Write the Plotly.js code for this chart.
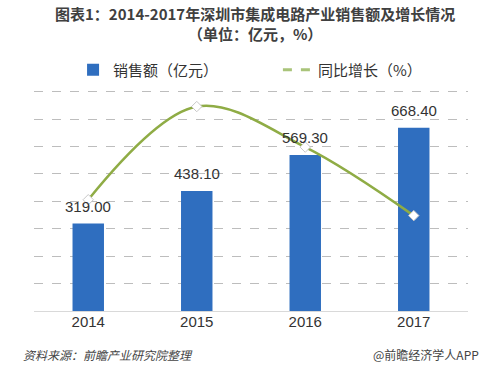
<!DOCTYPE html>
<html><head><meta charset="utf-8">
<script src="https://cdn.plot.ly/plotly-3.0.1.min.js"></script>
<style>html,body{margin:0;padding:0;background:#fff}#c{width:492px;height:367px}</style>
</head><body><div id="c"></div>
<script>
const years = [2014, 2015, 2016, 2017];
const yearLabels = ['2014','2015','2016','2017'];
const sales = [319.00, 438.10, 569.30, 668.40];
const salesLabels = ['319.00','438.10','569.30','668.40'];
const growth = [20.3, 37.3, 29.9, 17.4];
const font = '"Noto Sans CJK SC", "Noto Sans", sans-serif';

const traces = [
  {type:'bar', x:years, y:sales, width:0.29, name:'销售额（亿元）', marker:{color:'#2f6ebf'}, hoverinfo:'none', legend:'legend'},
  {type:'scatter', mode:'lines+markers', x:years, y:growth, yaxis:'y2', name:'同比增长（%）', showlegend:false,
   line:{color:'#8fac45', width:2.5, shape:'spline', smoothing:1},
   marker:{symbol:'diamond', size:8, color:'#ffffff', line:{color:'#c8c8c8', width:1}}},
  {type:'scatter', mode:'lines', x:[years[0]], y:[null], yaxis:'y2', name:'同比增长（%）', legend:'legend2',
   line:{color:'#a9c47a', width:3, dash:'dash'}}
];

const annotations = years.map((y,i)=>({x:y, y:sales[i], text:salesLabels[i], showarrow:false,
  yanchor:'bottom', yshift:7, font:{family:'Liberation Sans, Arial, sans-serif', size:15, color:'#333'}}));
annotations.push({xref:'paper', yref:'paper', x:0.51, y:1.293, xanchor:'center', yanchor:'middle', showarrow:false,
  text:'<b>图表1：2014-2017年深圳市集成电路产业销售额及增长情况</b><br><b>（单位：亿元，%）</b>',
  font:{family:font, size:15, color:'#404040'}});
annotations.push({xref:'paper', yref:'paper', x:-0.03, y:-0.198, xanchor:'left', yanchor:'middle', showarrow:false,
  text:'<i>资料来源：前瞻产业研究院整理</i>', font:{family:font, size:12, color:'#444'}});
annotations.push({xref:'paper', yref:'paper', x:1.03, y:-0.198, xanchor:'right', yanchor:'middle', showarrow:false,
  text:'@前瞻经济学人APP', font:{family:font, size:12, color:'#444'}});

const legendBase = {orientation:'h', xanchor:'left', y:1.086, yanchor:'middle',
  bgcolor:'rgba(0,0,0,0)', font:{family:font, size:15, color:'#333'}};

const layout = {
  width:492, height:367,
  margin:{l:34, r:24, t:89, b:56},
  paper_bgcolor:'#fff', plot_bgcolor:'#fff',
  showlegend:true,
  legend:Object.assign({}, legendBase, {x:0.09}),
  legend2:Object.assign({}, legendBase, {x:0.562}),
  xaxis:{type:'linear', range:[2013.5, 2017.5], tickmode:'array', tickvals:years, ticktext:yearLabels,
    showgrid:false, ticks:'', showline:false, zeroline:false,
    tickfont:{family:'Liberation Sans, Arial, sans-serif', size:15, color:'#333'}},
  yaxis:{range:[0,810], tickmode:'linear', tick0:0, dtick:100, showticklabels:false, showgrid:true, gridcolor:'#bdbdbd',
    griddash:'dash', gridwidth:1, zeroline:true, zerolinecolor:'#d9d9d9', zerolinewidth:1, showline:false},
  yaxis2:{range:[0,40.5], overlaying:'y', side:'right', showticklabels:false, showgrid:false, zeroline:false, showline:false},
  annotations:annotations
};
Plotly.newPlot('c', traces, layout, {displayModeBar:false, staticPlot:true});
</script></body></html>
